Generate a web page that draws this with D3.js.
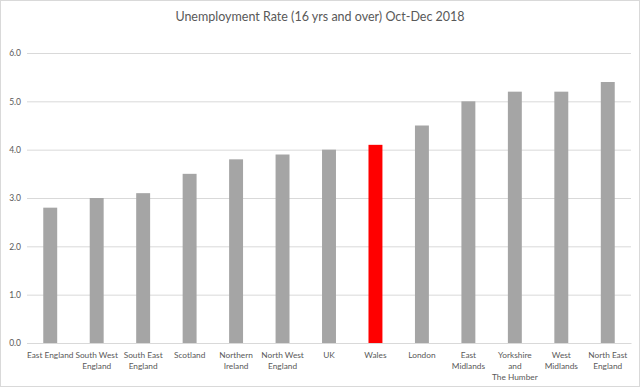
<!DOCTYPE html>
<html><head><meta charset="utf-8">
<script src="https://cdn.jsdelivr.net/npm/d3@7"></script>
<style>body{margin:0;background:#fff}svg{display:block}</style>
</head><body>
<script>
const categories = [["East England"],["South West","England"],["South East","England"],["Scotland"],["Northern","Ireland"],["North West","England"],["UK"],["Wales"],["London"],["East","Midlands"],["Yorkshire","and","The Humber"],["West","Midlands"],["North East","England"]];
const values = [2.8,3.0,3.1,3.5,3.8,3.9,4.0,4.1,4.5,5.0,5.2,5.2,5.4];
const highlight = "Wales";
const yTicks = [0,1,2,3,4,5,6];
const title = "Unemployment Rate (16 yrs and over) Oct-Dec 2018";

const W = 640, H = 387;
const svg = d3.select("body").append("svg").attr("width", W).attr("height", H);
svg.append("rect").attr("x",0.5).attr("y",0.5).attr("width",W-1).attr("height",H-1).attr("fill","#fff").attr("stroke","#d9d9d9");
const font = "Lato, 'Open Sans', sans-serif";
svg.append("text").attr("x",320).attr("y",21).attr("text-anchor","middle")
  .attr("font-family",font).attr("font-size",12.5).attr("fill","#595959").text(title);

const names = categories.map(c => c.join(" "));
const x = d3.scaleBand().domain(names).range([27,631]).paddingInner(0.7).paddingOuter(0.35);
const y = d3.scaleLinear().domain([0,6]).range([343,53]);

const yAxis = svg.append("g").attr("transform","translate(27,0)")
  .call(d3.axisLeft(y).tickValues(yTicks).tickFormat(d3.format(".1f")).tickSize(-(631-27)).tickPadding(6));
yAxis.select(".domain").remove();
yAxis.selectAll("line").attr("stroke","#d9d9d9");
yAxis.selectAll("text").attr("font-family",font).attr("font-size",8.5).attr("fill","#595959");

svg.selectAll("rect.bar").data(values).join("rect").attr("class","bar")
  .attr("x",(d,i)=>x(names[i])).attr("width",x.bandwidth())
  .attr("y",d=>y(d)).attr("height",d=>y(0)-y(d))
  .attr("fill",(d,i)=>names[i]===highlight?"#ff0000":"#a5a5a5");

const xAxis = svg.append("g").attr("transform","translate(0,343)")
  .call(d3.axisBottom(x).tickSize(0).tickFormat(""));
xAxis.select(".domain").attr("stroke","#d9d9d9");
xAxis.selectAll(".tick").each(function(d,i){
  const t = d3.select(this).append("text").attr("y",15).attr("text-anchor","middle")
    .attr("font-family",font).attr("font-size",8.3).attr("fill","#595959");
  categories[i].forEach((line,j)=>t.append("tspan").attr("x",0).attr("dy",j===0?0:11).text(line));
});
</script>
</body></html>
